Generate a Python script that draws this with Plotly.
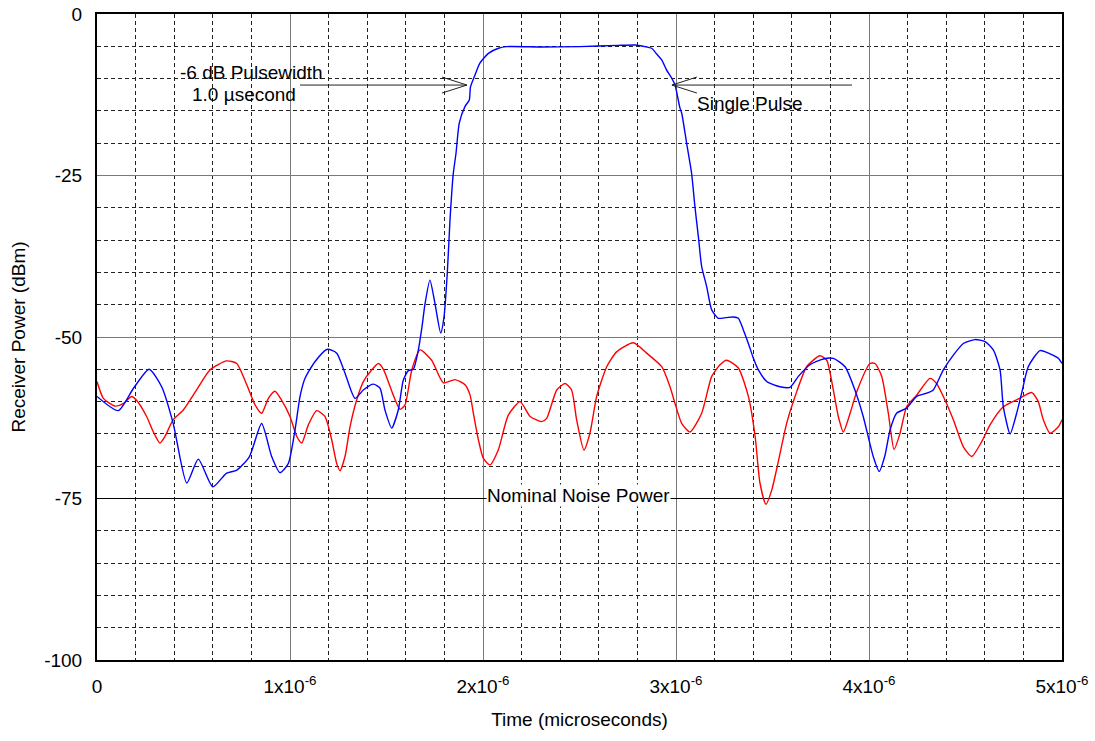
import plotly.graph_objects as go

# ---- data (time in microseconds, power in dBm) ----
pulse_t = [0.00, 0.11, 0.19, 0.27, 0.335, 0.395, 0.465, 0.525, 0.60, 0.67, 0.725, 0.79, 0.853,
           0.905, 0.948, 0.991, 1.026, 1.052, 1.078, 1.13, 1.193, 1.242, 1.285, 1.337, 1.38,
           1.432, 1.466, 1.492, 1.527, 1.561, 1.587, 1.613, 1.639, 1.665, 1.684, 1.70, 1.725,
           1.751, 1.781, 1.798, 1.815, 1.829, 1.846, 1.86, 1.877, 1.907, 1.929, 1.935, 1.959,
           1.984, 2.028, 2.08, 2.122, 2.3, 2.5, 2.7, 2.79, 2.83, 2.874, 2.90, 2.926, 2.95,
           2.978, 2.995, 3.02, 3.03, 3.055, 3.081, 3.098, 3.116, 3.133, 3.159, 3.185, 3.219,
           3.26, 3.297, 3.323, 3.349, 3.375, 3.40, 3.427, 3.47, 3.539, 3.59, 3.634, 3.694,
           3.763, 3.815, 3.876, 3.927, 3.97, 4.022, 4.053, 4.083, 4.109, 4.143, 4.195, 4.247,
           4.299, 4.333, 4.385, 4.437, 4.489, 4.549, 4.601, 4.644, 4.679, 4.696, 4.731, 4.765,
           4.791, 4.825, 4.886, 4.938, 4.981, 5.0]
pulse_db = [-59.2, -61.4, -57.9, -55.0, -57.7, -63.4, -72.6, -68.9, -73.2, -71.1, -70.6, -68.5, -63.4,
            -68.5, -71.0, -69.6, -64.4, -59.2, -56.4, -53.8, -51.9, -52.5, -55.6, -59.5, -58.2,
            -57.3, -57.9, -61.3, -64.1, -61.3, -56.7, -55.2, -55.0, -52.0, -48.4, -44.8, -41.2,
            -44.8, -49.4, -46.9, -40.1, -31.9, -24.7, -21.6, -16.9, -14.3, -13.3, -11.3, -9.4,
            -7.6, -6.1, -5.3, -5.05, -5.1, -5.05, -4.85, -4.8, -5.0, -5.3, -6.2, -7.1, -8.6,
            -9.95, -11.0, -14.5, -15.4, -20.0, -24.7, -29.8, -34.5, -39.1, -42.2, -45.8, -47.1,
            -47.0, -46.9, -47.1, -48.9, -51.0, -53.2, -55.1, -56.9, -57.7, -57.8, -56.1, -54.3,
            -53.4, -53.3, -54.6, -58.2, -62.3, -68.5, -70.8, -68.3, -64.4, -61.8, -61.0, -59.2,
            -58.7, -58.2, -55.1, -52.8, -51.0, -50.4, -50.7, -52.0, -55.1, -60.8, -65.0, -61.8,
            -58.7, -54.6, -52.1, -52.6, -53.3, -54.1]

noise_t = [0.00, 0.033, 0.093, 0.136, 0.18, 0.205, 0.257, 0.292, 0.326, 0.352, 0.395, 0.447, 0.516,
           0.585, 0.672, 0.724, 0.776, 0.819, 0.853, 0.888, 0.922, 0.957, 1.0, 1.035, 1.061,
           1.095, 1.138, 1.181, 1.216, 1.242, 1.259, 1.285, 1.311, 1.345, 1.38, 1.423, 1.458,
           1.484, 1.535, 1.57, 1.596, 1.631, 1.674, 1.734, 1.795, 1.855, 1.907, 1.933, 1.95,
           1.976, 2.002, 2.036, 2.079, 2.131, 2.192, 2.244, 2.304, 2.33, 2.382, 2.425, 2.459,
           2.485, 2.523, 2.554, 2.589, 2.641, 2.692, 2.779, 2.848, 2.926, 2.969, 2.995, 3.03,
           3.073, 3.133, 3.185, 3.228, 3.262, 3.323, 3.375, 3.41, 3.435, 3.466, 3.496, 3.53,
           3.573, 3.617, 3.677, 3.746, 3.781, 3.815, 3.841, 3.867, 3.902, 3.936, 4.005, 4.031,
           4.066, 4.1, 4.13, 4.161, 4.195, 4.247, 4.316, 4.35, 4.385, 4.437, 4.489, 4.532,
           4.584, 4.627, 4.696, 4.78, 4.843, 4.877, 4.903, 4.938, 4.981, 5.0]
noise_db = [-56.9, -59.5, -60.7, -60.3, -59.2, -59.8, -62.3, -64.7, -66.4, -65.4, -62.8, -61.3, -58.2,
            -55.1, -53.7, -54.1, -57.4, -60.5, -61.8, -59.5, -58.4, -59.8, -62.3, -65.4, -66.4,
            -63.6, -61.4, -62.3, -65.9, -69.6, -70.7, -68.5, -63.9, -59.8, -56.9, -55.1, -54.1,
            -55.0, -59.0, -61.2, -60.5, -55.1, -52.0, -53.6, -57.1, -56.6, -57.4, -59.0, -61.8,
            -65.9, -68.8, -69.8, -67.5, -62.1, -60.0, -62.3, -63.1, -62.6, -58.2, -57.2, -58.2,
            -62.8, -67.5, -64.9, -59.2, -54.6, -52.3, -50.9, -52.5, -54.6, -57.7, -60.3, -63.4,
            -64.7, -61.8, -56.1, -54.3, -53.6, -54.8, -59.2, -65.4, -72.6, -75.9, -73.7, -69.3,
            -63.4, -59.2, -54.6, -52.9, -53.6, -58.2, -62.3, -64.7, -61.8, -58.5, -54.1, -54.1,
            -56.1, -61.8, -67.4, -64.9, -60.8, -59.0, -56.4, -57.2, -59.2, -62.8, -67.0, -68.5,
            -66.2, -63.6, -60.8, -59.5, -58.6, -60.0, -62.8, -64.9, -63.9, -62.8]

x_tick_vals_us = [0, 1, 2, 3, 4, 5]
x_tick_text = ["0", "1x10<sup>-6</sup>", "2x10<sup>-6</sup>", "3x10<sup>-6</sup>",
               "4x10<sup>-6</sup>", "5x10<sup>-6</sup>"]
y_tick_vals = [0, -25, -50, -75, -100]
y_tick_text = ["0", "-25", "-50", "-75", "-100"]

nominal_noise_db = -75
pw_left_us, pw_right_us, pw_level_db = 1.917, 2.979, -11.0

US = 1e-6
FONT = "Liberation Sans, Arial, sans-serif"
FS = 19

fig = go.Figure()
fig.add_trace(go.Scatter(x=[t * US for t in noise_t], y=noise_db, mode="lines",
                         line=dict(color="#ff0000", width=1.4, shape="spline", smoothing=0.6),
                         showlegend=False, hoverinfo="skip"))
fig.add_trace(go.Scatter(x=[t * US for t in pulse_t], y=pulse_db, mode="lines",
                         line=dict(color="#0000ff", width=1.4, shape="spline", smoothing=0.6),
                         showlegend=False, hoverinfo="skip"))

shapes = []
# nominal noise line
shapes.append(dict(type="line", xref="x", yref="y", x0=0, x1=5 * US, y0=nominal_noise_db,
                   y1=nominal_noise_db, line=dict(color="black", width=1), layer="between"))


def arrow(x_tip, y_tip, x_tail, direction):
    # direction: +1 arrow points right (tail at left), -1 points left
    out = [dict(type="line", xref="x", yref="y", x0=x_tail, x1=x_tip, y0=y_tip, y1=y_tip,
                line=dict(color="#222", width=1))]
    for dy in (8, -8):
        out.append(dict(type="line", xref="x", yref="y", xsizemode="pixel", ysizemode="pixel",
                        xanchor=x_tip, yanchor=y_tip, x0=0, y0=0, x1=-25 * direction, y1=dy,
                        line=dict(color="#222", width=1)))
    return out


shapes += arrow(pw_left_us * US, pw_level_db, 1.052 * US, +1)
shapes += arrow(pw_right_us * US, pw_level_db, 3.912 * US, -1)

annotations = [
    dict(x=0.80 * US, y=-9.0, xref="x", yref="y", text="-6 dB Pulsewidth", showarrow=False,
         font=dict(family=FONT, size=FS, color="black"), xanchor="center", yanchor="middle"),
    dict(x=0.76 * US, y=-12.4, xref="x", yref="y", text="1.0 \u00b5second", showarrow=False,
         font=dict(family=FONT, size=FS, color="black"), xanchor="center", yanchor="middle"),
    dict(x=3.100 * US, y=-13.8, xref="x", yref="y", text="Single Pulse", showarrow=False,
         font=dict(family=FONT, size=FS, color="black"), xanchor="left", yanchor="middle"),
    dict(x=2.497 * US, y=-74.5, xref="x", yref="y", text="Nominal Noise Power", showarrow=False,
         font=dict(family=FONT, size=FS, color="black"), xanchor="center", yanchor="middle",
         bgcolor="white", borderpad=0),
]

fig.update_layout(
    width=1095, height=741,
    margin=dict(l=97, r=33, t=14, b=81, autoexpand=False),
    paper_bgcolor="white", plot_bgcolor="white",
    font=dict(family=FONT, size=FS, color="black"),
    shapes=shapes, annotations=annotations,
    showlegend=False,
)
fig.update_xaxes(
    range=[0, 5 * US], tickvals=[v * US for v in x_tick_vals_us], ticktext=x_tick_text,
    showgrid=True, gridcolor="#7a7a7a", gridwidth=1,
    minor=dict(tick0=0, dtick=0.2 * US, showgrid=True, gridcolor="#222", griddash="4px,3px",
               gridwidth=1),
    showline=True, linecolor="black", linewidth=2, mirror=True, zeroline=False,
    ticks="", ticklabelstandoff=8, automargin=False,
    title=dict(text="Time (microseconds)", font=dict(family=FONT, size=FS), standoff=17),
    tickfont=dict(family=FONT, size=FS),
)
fig.update_yaxes(
    range=[-100, 0], tickvals=y_tick_vals, ticktext=y_tick_text,
    showgrid=True, gridcolor="#7a7a7a", gridwidth=1,
    minor=dict(tick0=0, dtick=5, showgrid=True, gridcolor="#222", griddash="4px,3px",
               gridwidth=1),
    showline=True, linecolor="black", linewidth=2, mirror=True, zeroline=False,
    ticks="", ticklabelstandoff=9, automargin=False,
    title=dict(text="Receiver Power (dBm)", font=dict(family=FONT, size=FS), standoff=14),
    tickfont=dict(family=FONT, size=FS),
)

fig.write_html("out.html")
